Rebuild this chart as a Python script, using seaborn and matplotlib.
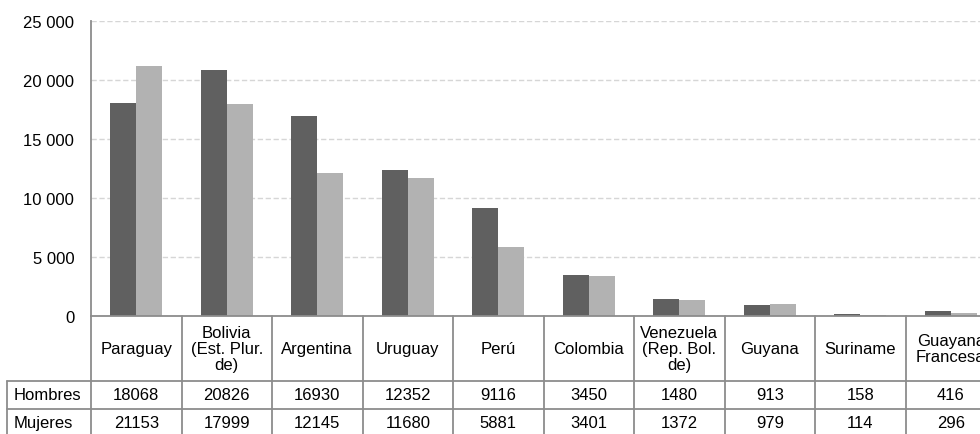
import matplotlib
matplotlib.use("Agg")
import matplotlib.pyplot as plt
import matplotlib.transforms as mtransforms
from matplotlib.lines import Line2D
import seaborn as sns
import pandas as pd

# Data
paises = ["Paraguay", "Bolivia\n(Est. Plur.\nde)", "Argentina", "Uruguay", "Perú",
          "Colombia", "Venezuela\n(Rep. Bol.\nde)", "Guyana", "Suriname",
          "Guayana\nFrancesa"]
hombres = [18068, 20826, 16930, 12352, 9116, 3450, 1480, 913, 158, 416]
mujeres = [21153, 17999, 12145, 11680, 5881, 3401, 1372, 979, 114, 296]
series = ["Hombres", "Mujeres"]
colores = ["#606060", "#b2b2b2"]
yticks = [0, 5000, 10000, 15000, 20000, 25000]

sns.set_theme(style="white")
plt.rcParams["font.family"] = ["Liberation Sans", "DejaVu Sans"]

W, H = 980, 435
fig = plt.figure(figsize=(W / 100, H / 100), dpi=100)
fig.patch.set_facecolor("white")

# plot area in pixels (the right part runs past the canvas edge)
px_left, px_right, px_top, px_bottom = 91, 996, 22, 317
ax = fig.add_axes([px_left / W, 1 - px_bottom / H,
                   (px_right - px_left) / W, (px_bottom - px_top) / H])

df = pd.DataFrame({
    "pais": paises * 2,
    "serie": [series[0]] * len(paises) + [series[1]] * len(paises),
    "valor": hombres + mujeres,
})
sns.barplot(data=df, x="pais", y="valor", hue="serie", palette=colores,
            width=0.57, saturation=1, errorbar=None, linewidth=0,
            legend=False, ax=ax)

ax.set_xlim(-0.5, len(paises) - 0.5)
ax.set_ylim(0, 25000)
ax.set_yticks(yticks)
ax.set_yticklabels([f"{v:,}".replace(",", " ") for v in yticks])
ax.set_xticks([])
ax.set_xlabel("")
ax.set_ylabel("")
ax.tick_params(axis="y", length=0, pad=12, labelsize=12, labelcolor="black")

ax.set_axisbelow(True)
ax.yaxis.grid(True, linestyle=(0, (3.8, 1.9)), color="#d6d6d6", linewidth=1.0)
ax.xaxis.grid(False)

grid_col = "#8c8c8c"
for s in ["top", "right"]:
    ax.spines[s].set_visible(False)
for s in ["left", "bottom"]:
    ax.spines[s].set_color(grid_col)
    ax.spines[s].set_linewidth(1.3)

# Data table under the bars
def fy(py):
    return 1 - py / H

blend = mtransforms.blended_transform_factory(ax.transData, fig.transFigure)
row_tops = [382, 410, 438]
label_left = 7

# vertical column borders
for k in range(len(paises) + 1):
    fig.add_artist(Line2D([k - 0.5, k - 0.5], [fy(px_bottom), fy(H + 5)],
                          transform=blend, color=grid_col, linewidth=1.3))
# row-label column left border
fig.add_artist(Line2D([label_left / W, label_left / W], [fy(row_tops[0]), fy(H + 5)],
                      transform=fig.transFigure, color=grid_col, linewidth=1.3))
# horizontal row borders
for py in row_tops:
    fig.add_artist(Line2D([label_left / W, 1.05], [fy(py), fy(py)],
                          transform=fig.transFigure, color=grid_col, linewidth=1.3))

# header row with country names
header_mid = (px_bottom + row_tops[0]) / 2
for i, nombre in enumerate(paises):
    fig.text(i, fy(header_mid), nombre, transform=blend, ha="center", va="center",
             fontsize=12, linespacing=1.1, color="black")

# value rows
for r, (nombre, valores) in enumerate(zip(series, [hombres, mujeres])):
    mid = (row_tops[r] + row_tops[r + 1]) / 2 - 0.5
    fig.text(14 / W, fy(mid), nombre, ha="left", va="center", fontsize=12,
             color="black")
    for i, v in enumerate(valores):
        fig.text(i, fy(mid), str(v), transform=blend, ha="center", va="center",
                 fontsize=12, color="black")

fig.savefig("out.png", dpi=100)
